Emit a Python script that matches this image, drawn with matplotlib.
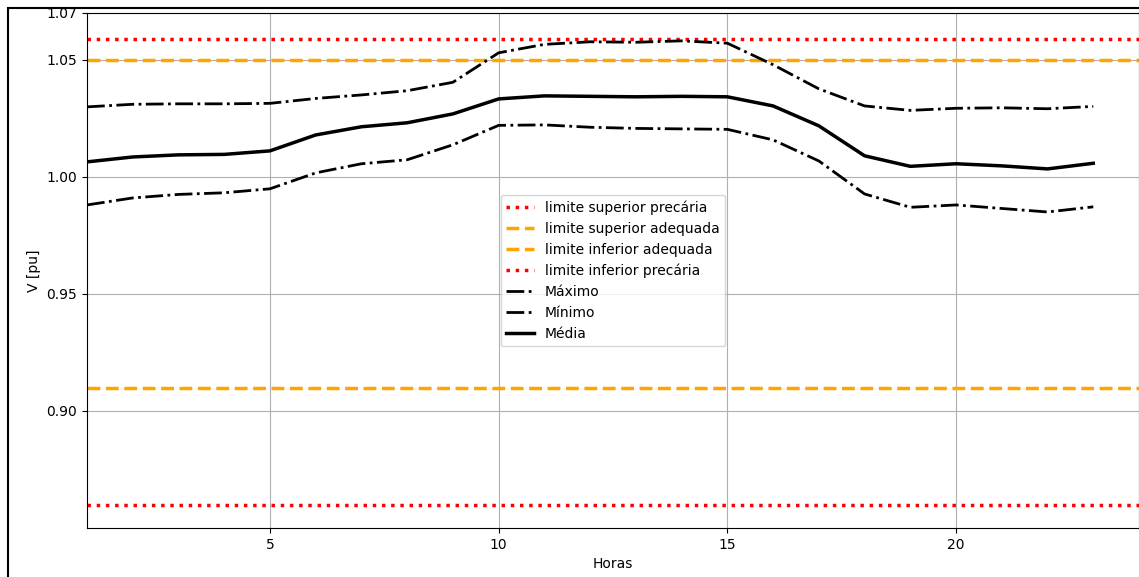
import matplotlib
matplotlib.use("Agg")
import matplotlib.pyplot as plt
from matplotlib.patches import Rectangle

# Hourly voltage profile (pu)
horas = list(range(1, 24))
maximo = [1.0299, 1.0310, 1.0312, 1.0312, 1.0314, 1.0335, 1.0350, 1.0368, 1.0404,
          1.0530, 1.0566, 1.0577, 1.0575, 1.0581, 1.0571, 1.0479, 1.0376, 1.0303,
          1.0284, 1.0293, 1.0295, 1.0291, 1.0301]
minimo = [0.9880, 0.9910, 0.9925, 0.9932, 0.9949, 1.0017, 1.0056, 1.0073, 1.0137,
          1.0220, 1.0222, 1.0212, 1.0207, 1.0205, 1.0203, 1.0158, 1.0068, 0.9927,
          0.9870, 0.9880, 0.9865, 0.9850, 0.9872]
media = [1.0064, 1.0085, 1.0094, 1.0096, 1.0111, 1.0179, 1.0214, 1.0231, 1.0269,
         1.0333, 1.0346, 1.0344, 1.0342, 1.0344, 1.0342, 1.0303, 1.0218, 1.0090,
         1.0045, 1.0056, 1.0047, 1.0034, 1.0058]

# Voltage limits
lim_sup_precaria = 1.059
lim_sup_adequada = 1.05
lim_inf_adequada = 0.91
lim_inf_precaria = 0.86

yticks = [0.90, 0.95, 1.00, 1.05, 1.07]

fig = plt.figure(figsize=(11.39, 5.77), dpi=100)
ax = fig.add_axes([87 / 1139, 49 / 577, 1052 / 1139, 515 / 577])

ax.axhline(lim_sup_precaria, color="red", linestyle=":", linewidth=2.5,
           label="limite superior precária")
ax.axhline(lim_sup_adequada, color="orange", linestyle="--", linewidth=2.5,
           label="limite superior adequada")
ax.axhline(lim_inf_adequada, color="orange", linestyle="--", linewidth=2.5,
           label="limite inferior adequada")
ax.axhline(lim_inf_precaria, color="red", linestyle=":", linewidth=2.5,
           label="limite inferior precária")

ax.plot(horas, maximo, color="black", linestyle="-.", linewidth=2, label="Máximo")
ax.plot(horas, minimo, color="black", linestyle="-.", linewidth=2, label="Mínimo")
ax.plot(horas, media, color="black", linestyle="-", linewidth=2.5, label="Média")

ax.set_xlim(1, 24)
ax.set_ylim(0.85, 1.07)
ax.set_xticks([5, 10, 15, 20])
ax.set_yticks(yticks)
ax.set_yticklabels([f"{v:.2f}" for v in yticks])
ax.grid(True, color="#b0b0b0", linewidth=0.8)
ax.set_xlabel("Horas")
ax.set_ylabel("V [pu]")
ax.legend(loc="center")

# Figure frame
fig.patches.append(Rectangle((8 / 1139, -0.1), 1.2, (577 - 8) / 577 + 0.1,
                             transform=fig.transFigure, fill=False,
                             edgecolor="black", linewidth=1.5, clip_on=False))

fig.savefig("out.png", dpi=100)
